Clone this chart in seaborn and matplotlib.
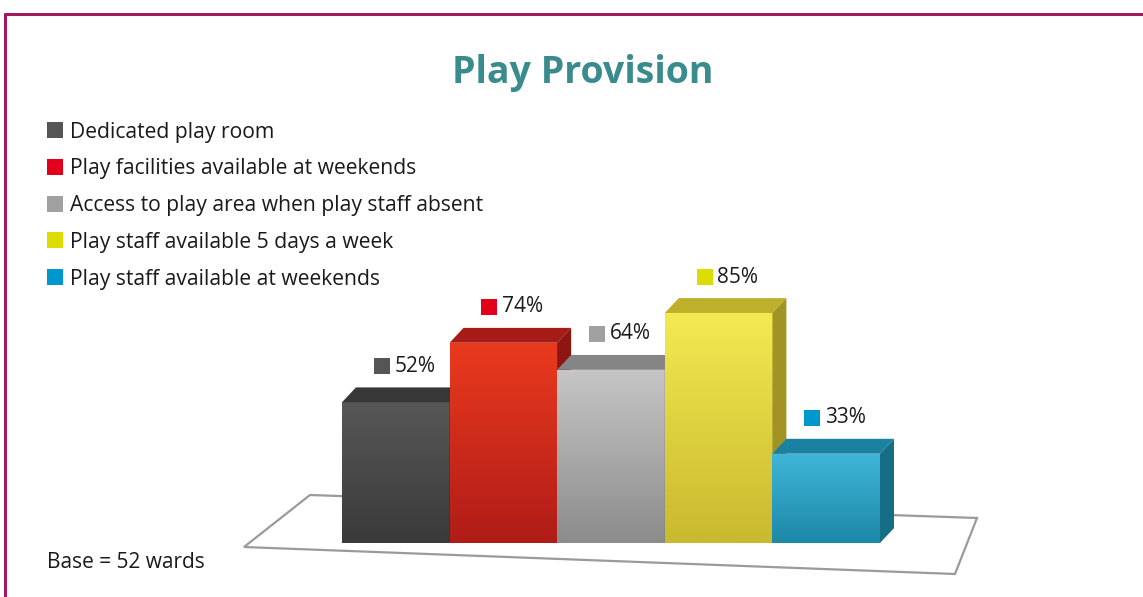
import matplotlib
matplotlib.use("Agg")
import numpy as np
import matplotlib.pyplot as plt
import seaborn as sns
from matplotlib.colors import LinearSegmentedColormap, to_rgb
from matplotlib.patches import Polygon, Rectangle
from matplotlib.lines import Line2D

# chart data
categories = ["Dedicated play room",
              "Play facilities available at weekends",
              "Access to play area when play staff absent",
              "Play staff available 5 days a week",
              "Play staff available at weekends"]
values = [52, 74, 64, 85, 33]
value_labels = ["52%", "74%", "64%", "85%", "33%"]

# colours: front face top / bottom, key squares
top_colors = ["#575757", "#ea3a1e", "#c6c6c6", "#f3ea52", "#40b6d8"]
bottom_colors = ["#3a3a3a", "#b01c18", "#8c8c8c", "#c9b92e", "#1c88a8"]
key_colors = ["#555555", "#e2001a", "#a0a0a0", "#dcdc00", "#0098cc"]

title = "Play Provision"
base_note = "Base = 52 wards"

sns.set_theme(style="white")
plt.rcParams["font.family"] = ["Open Sans", "DejaVu Sans"]

W, H = 1143, 597
fig = plt.figure(figsize=(W / 100, H / 100), dpi=100)
ax = fig.add_axes([0, 0, 1, 1])


def fx(px):
    return px / W


def fy(py):
    return 1 - py / H


sns.barplot(x=categories, y=values, hue=categories, palette=top_colors,
            width=1.0, saturation=1, legend=False, ax=ax)

ax.set_xlim(-3.678, 6.944)
ax.set_ylim(-19.96, 200.67)
ax.axis("off")

# floor plate
floor = Polygon([(fx(244), fy(547)), (fx(310), fy(495)), (fx(977), fy(518)), (fx(955), fy(574))],
                closed=True, transform=fig.transFigure, facecolor="white",
                edgecolor="#9a9a9a", lw=1.6, zorder=1)

# fake 3d depth
dx, dy = 0.13, 5.5
patches = sorted(ax.patches[:len(values)], key=lambda p: p.get_x())
ax.add_patch(floor)
for i, p in enumerate(patches):
    z = 3 + 3 * i
    x0, w, h = p.get_x(), p.get_width(), p.get_height()
    p.set_zorder(z)
    p.set_edgecolor("none")
    cmap = LinearSegmentedColormap.from_list("g", [bottom_colors[i], top_colors[i]])
    grad = np.linspace(0, 1, 200).reshape(-1, 1)
    im = ax.imshow(grad, extent=[x0, x0 + w, 0, h], origin="lower", aspect="auto",
                   cmap=cmap, zorder=z + 0.1)
    im.set_clip_path(p)
    top_c = np.array(to_rgb(bottom_colors[i])) * 0.95
    side_c = np.array(to_rgb(bottom_colors[i])) * 0.8
    ax.add_patch(Polygon([(x0, h), (x0 + w, h), (x0 + w + dx, h + dy), (x0 + dx, h + dy)],
                         closed=True, facecolor=top_c, edgecolor="none", zorder=z + 0.2))
    ax.add_patch(Polygon([(x0 + w, 0), (x0 + w + dx, dy), (x0 + w + dx, h + dy), (x0 + w, h)],
                         closed=True, facecolor=side_c, edgecolor="none", zorder=z + 0.2))

    # value label with colour key
    cx = x0 + w / 2
    ly = h + dy + 7.8
    ax.scatter([cx - 0.13], [ly], marker="s", s=125, color=key_colors[i],
               linewidths=0, zorder=30)
    ax.text(cx - 0.015, ly, value_labels[i], ha="left", va="center",
            fontsize=15, color="#1a1a1a", zorder=30)

ax.set_xlim(-3.678, 6.944)
ax.set_ylim(-19.96, 200.67)

# legend
for i, lab in enumerate(categories):
    yc = 130 + 36.8 * i
    fig.patches.append(Rectangle((fx(47), fy(yc + 8)), 16 / W, 16 / H,
                                 transform=fig.transFigure, facecolor=key_colors[i],
                                 edgecolor="none", figure=fig))
    fig.text(fx(70), fy(yc + 2), lab, ha="left", va="center", fontsize=15.2, color="#1a1a1a")

fig.text(fx(583), fy(73), title, ha="center", va="center", fontsize=27,
         fontweight="bold", color="#3a8b8e")
fig.text(fx(47), fy(563), base_note, ha="left", va="center", fontsize=15, color="#1a1a1a")

# frame lines
border = "#9c1c5f"
fig.add_artist(Line2D([fx(5), 1], [fy(14), fy(14)], color=border, lw=2.2, transform=fig.transFigure))
fig.add_artist(Line2D([fx(5), fx(5)], [fy(14), 0], color=border, lw=2.2, transform=fig.transFigure))

fig.savefig("out.png", dpi=100)
